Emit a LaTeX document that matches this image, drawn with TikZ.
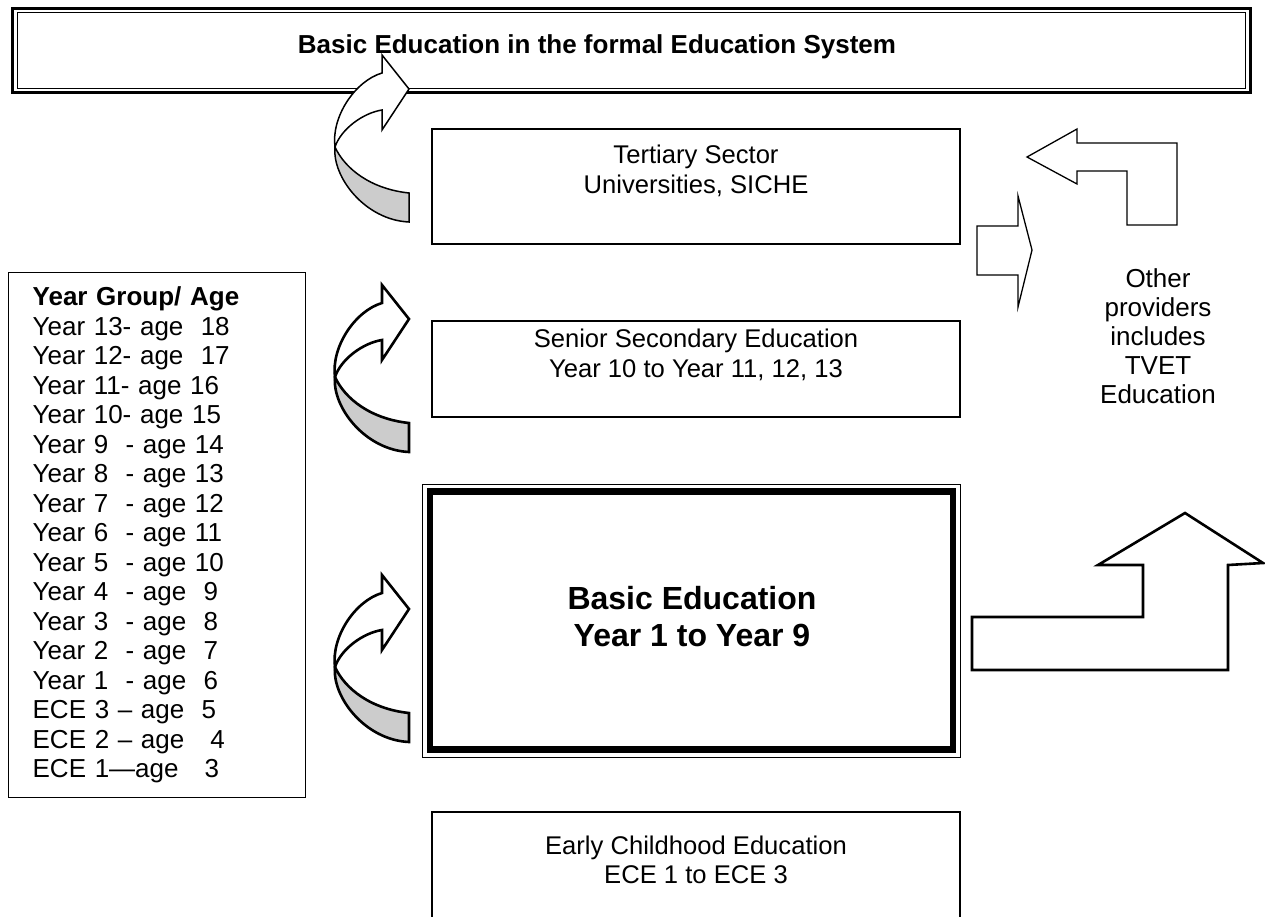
\documentclass[tikz,border=0pt]{standalone}
\usepackage{fontspec}
\setmainfont{Liberation Sans}
\usetikzlibrary{calc}

\definecolor{backgray}{gray}{0.8}

\tikzset{
  plainbox/.style={draw, line width=1.3, minimum width=528, minimum height=115},
  boxtext/.style={font=\fontsize{25.6}{29.5}\selectfont, align=center, inner sep=0},
  % curved arrow, origin at the pinch point of the band
  curvearrow/.pic={
    \draw[fill=backgray] (0,0) .. controls (-3,30) and (30,73) .. (74,75) -- (74,46)
      .. controls (36,42) and (10,22) .. (0,0) -- cycle;
    \draw[fill=white] (0,0) .. controls (-4,-30) and (20,-66) .. (47,-74) -- (47,-92)
      -- (74,-58) -- (47,-17) -- (47,-37) .. controls (28,-34) and (6,-18) .. (0,0) -- cycle;
  }
}

\begin{document}
\begin{tikzpicture}[x=1pt, y=-1pt, line join=miter]
\useasboundingbox (0,0) rectangle (1265,917);

% Title frame (thick outside, thin inside)
\node[draw, line width=3, minimum width=1238, minimum height=84, inner sep=0] (titlebox) at (631,50.5) {};
\node[draw, line width=1, minimum width=1228, minimum height=76, inner sep=0] (titleinner) at (631,50.5) {};
\node[font=\bfseries\fontsize{26}{30}\selectfont, inner sep=0] (titletext) at (597,47) {Basic Education in the formal Education System};

% Year group list
\node[draw, line width=1.3, anchor=north west, minimum height=525, text width=249, inner xsep=24,
  align=left, font=\fontsize{26}{29.5}\selectfont] (yeargroups) at (8,272) {%
  \textbf{Year Group/ Age}\\
  Year 13- age\ \ 18\\
  Year 12- age\ \ 17\\
  Year 11- age 16\\
  Year 10- age 15\\
  Year 9\ \ - age 14\\
  Year 8\ \ - age 13\\
  Year 7\ \ - age 12\\
  Year 6\ \ - age 11\\
  Year 5\ \ - age 10\\
  Year 4\ \ - age\ \ 9\\
  Year 3\ \ - age\ \ 8\\
  Year 2\ \ - age\ \ 7\\
  Year 1\ \ - age\ \ 6\\
  ECE 3 – age\ \ 5\\
  ECE 2 – age\ \ \ 4\\
  ECE 1—age\ \ \ 3};

% Sector boxes
\node[plainbox] (tertiary) at (696,186.5) {};
\node[boxtext] (tertiarytext) at (696,171) {Tertiary Sector\\Universities, SICHE};

\node[plainbox, minimum height=96] (senior) at (696,369) {};
\node[boxtext] (seniortext) at (696,355) {Senior Secondary Education\\Year 10 to Year 11, 12, 13};

\node[draw, line width=1, minimum width=538, minimum height=273, inner sep=0] (basicouter) at (691.5,620.5) {};
\node[draw, line width=6.5, minimum width=523, minimum height=258, inner sep=0] (basic) at (691.5,620.5) {};
\node[boxtext, font=\bfseries\fontsize{32}{37}\selectfont] (basictext) at (692,617) {Basic Education\\Year 1 to Year 9};

\draw[line width=1.3] (432,917) -- (432,812) -- (960,812) -- (960,917);
\node[boxtext] (earlytext) at (696,860) {Early Childhood Education\\ECE 1 to ECE 3};

% Other providers
\node[boxtext, font=\fontsize{26}{29}\selectfont] (other) at (1158,336) {Other\\providers\\includes\\TVET\\Education};

% Curved arrows on the left
\pic[line width=1.5] at (335,147) {curvearrow};
\pic[line width=2.6] at (335,377) {curvearrow};
\pic[line width=2.6] at (335,667) {curvearrow};

% Block arrows on the right
\draw[line width=1.3, fill=white] (1027,157) -- (1077,129) -- (1077,143) -- (1177,143) -- (1177,225)
  -- (1127,225) -- (1127,171) -- (1077,171) -- (1077,184) -- cycle;
\draw[line width=1.3, fill=white] (977,226) -- (1018,226) -- (1018,196) -- (1032,250) -- (1018,307)
  -- (1018,275) -- (977,275) -- cycle;
\draw[line width=2.6, fill=white] (972,670) -- (972,617) -- (1143,617) -- (1143,565) -- (1098,565)
  -- (1185,513) -- (1263,563) -- (1228,565) -- (1228,670) -- cycle;
\end{tikzpicture}
\end{document}
